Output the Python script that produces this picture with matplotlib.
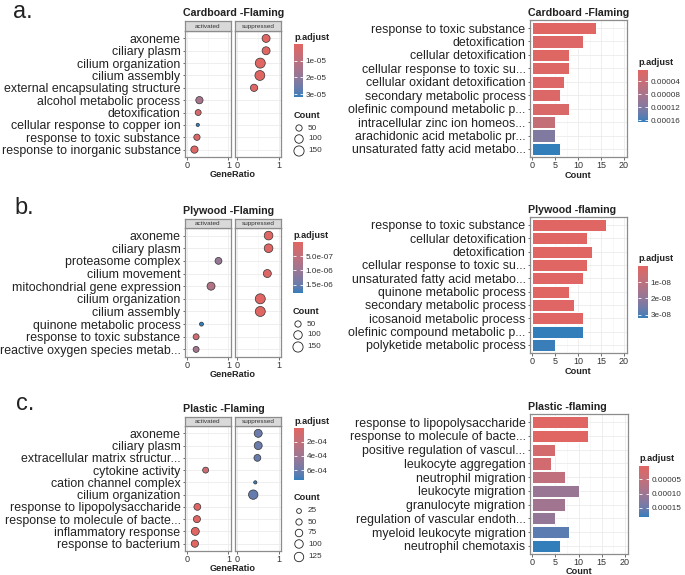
import numpy as np
import matplotlib
matplotlib.use("Agg")
import matplotlib.pyplot as plt
from matplotlib.colors import ListedColormap, Normalize
from matplotlib.cm import ScalarMappable

plt.rcParams['font.family'] = ['Liberation Sans', 'DejaVu Sans']

W, H = 685, 575

# ---- a. Cardboard, dot plot (top row first)
a_dot_terms = ["axoneme", "ciliary plasm", "cilium organization", "cilium assembly",
               "external encapsulating structure", "alcohol metabolic process", "detoxification",
               "cellular response to copper ion", "response to toxic substance",
               "response to inorganic substance"]
a_dot_group = ["suppressed"] * 5 + ["activated"] * 5
a_dot_ratio = [0.69, 0.69, 0.55, 0.54, 0.40, 0.30, 0.27, 0.26, 0.24, 0.18]
a_dot_count = [87, 87, 144, 140, 70, 70, 44, 9, 50, 70]
a_dot_padj = [2e-7, 3e-7, 1e-7, 1.5e-7, 8e-7, 1.5e-5, 3e-6, 3.16e-5, 2e-6, 1e-6]

# ---- a. Cardboard, bar plot
a_bar_terms = ["response to toxic substance", "detoxification", "cellular detoxification",
               "cellular response to toxic su...", "cellular oxidant detoxification",
               "secondary metabolic process", "olefinic compound metabolic p...",
               "intracellular zinc ion homeos...", "arachidonic acid metabolic pr...",
               "unsaturated fatty acid metabo..."]
a_bar_count = [14, 11, 8, 8, 7, 6, 8, 5, 5, 6]
a_bar_padj = [6e-6, 1.2e-5, 9e-6, 1e-5, 1.1e-5, 1.3e-5, 1.6e-5, 4.5e-5, 1.2e-4, 1.65e-4]

# ---- b. Plywood, dot plot
b_dot_terms = ["axoneme", "ciliary plasm", "proteasome complex", "cilium movement",
               "mitochondrial gene expression", "cilium organization", "cilium assembly",
               "quinone metabolic process", "response to toxic substance",
               "reactive oxygen species metab..."]
b_dot_group = ["suppressed", "suppressed", "activated", "suppressed", "activated",
               "suppressed", "suppressed", "activated", "activated", "activated"]
b_dot_ratio = [0.75, 0.75, 0.76, 0.72, 0.58, 0.55, 0.55, 0.35, 0.22, 0.22]
b_dot_count = [105, 105, 61, 87, 87, 144, 144, 16, 44, 44]
b_dot_padj = [2e-8, 3e-8, 1.05e-6, 5e-8, 7e-7, 1e-8, 1.5e-8, 1.79e-6, 3e-7, 9e-7]

# ---- b. Plywood, bar plot
b_bar_terms = ["response to toxic substance", "cellular detoxification", "detoxification",
               "cellular response to toxic su...", "unsaturated fatty acid metabo...",
               "quinone metabolic process", "secondary metabolic process",
               "icosanoid metabolic process", "olefinic compound metabolic p...",
               "polyketide metabolic process"]
b_bar_count = [16, 12, 13, 12, 11, 8, 9, 11, 11, 5]
b_bar_padj = [1e-10, 2e-10, 2e-10, 3e-10, 4e-10, 3e-10, 4e-10, 5e-10, 3.2e-8, 3.15e-8]

# ---- c. Plastic, dot plot
c_dot_terms = ["axoneme", "ciliary plasm", "extracellular matrix structur...", "cytokine activity",
               "cation channel complex", "cilium organization",
               "response to lipopolysaccharide", "response to molecule of bacte...",
               "inflammatory response", "response to bacterium"]
c_dot_group = ["suppressed", "suppressed", "suppressed", "activated", "suppressed",
               "suppressed", "activated", "activated", "activated", "activated"]
c_dot_ratio = [0.50, 0.50, 0.48, 0.45, 0.43, 0.38, 0.25, 0.24, 0.20, 0.19]
c_dot_count = [87, 87, 61, 44, 9, 125, 61, 65, 87, 70]
c_dot_padj = [6.1e-4, 6.1e-4, 6.2e-4, 1.3e-4, 7.4e-4, 6.3e-4, 2e-5, 2e-5, 1e-5, 1.5e-5]

# ---- c. Plastic, bar plot
c_bar_terms = ["response to lipopolysaccharide", "response to molecule of bacte...",
               "positive regulation of vascul...", "leukocyte aggregation",
               "neutrophil migration", "leukocyte migration", "granulocyte migration",
               "regulation of vascular endoth...", "myeloid leukocyte migration",
               "neutrophil chemotaxis"]
c_bar_count = [12, 12, 5, 4, 7, 10, 7, 5, 8, 6]
c_bar_padj = [3e-6, 3.5e-6, 2.5e-5, 2.8e-5, 5.5e-5, 1.05e-4, 9.5e-5, 1.1e-4, 1.62e-4, 1.82e-4]


# ggplot interpolates gradients in CIELAB, do the same here
M = np.array([[0.4124, 0.3576, 0.1805], [0.2126, 0.7152, 0.0722], [0.0193, 0.1192, 0.9505]])
WHITE = M @ np.ones(3)


def to_lab(hexcol):
    rgb = np.array(matplotlib.colors.to_rgb(hexcol))
    lin = np.where(rgb <= 0.04045, rgb / 12.92, ((rgb + 0.055) / 1.055) ** 2.4)
    t = (M @ lin) / WHITE
    d = 6 / 29
    f = np.where(t > d ** 3, np.cbrt(t), t / (3 * d * d) + 4 / 29)
    return np.array([116 * f[1] - 16, 500 * (f[0] - f[1]), 200 * (f[1] - f[2])])


def from_lab(lab):
    fy = (lab[0] + 16) / 116
    f = np.array([fy + lab[1] / 500, fy, fy - lab[2] / 200])
    d = 6 / 29
    t = np.where(f > d, f ** 3, 3 * d * d * (f - 4 / 29)) * WHITE
    lin = np.clip(np.linalg.solve(M, t), 0, 1)
    return np.clip(np.where(lin <= 0.0031308, 12.92 * lin, 1.055 * lin ** (1 / 2.4) - 0.055), 0, 1)


lo, hi = to_lab("#e06663"), to_lab("#327eba")
cmap = ListedColormap([from_lab(lo + (hi - lo) * s) for s in np.linspace(0, 1, 256)])

fig = plt.figure(figsize=(W / 100, H / 100), dpi=100)
ov = fig.add_axes([0, 0, 1, 1], zorder=-1)   # pixel overlay for titles / legends
ov.set_xlim(0, W)
ov.set_ylim(H, 0)
ov.axis("off")

DARK = "#222222"
LABEL_SIZE = 8.9


def box(x0, y0, x1, y1):
    return [x0 / W, 1 - y1 / H, (x1 - x0) / W, (y1 - y0) / H]


def dot_size(count):
    d = 0.75 * np.sqrt(np.asarray(count, dtype=float)) + 1   # diameter in px
    return (d * 0.72) ** 2


def style(ax):
    for s in ax.spines.values():
        s.set_color("#8c8c8c")
        s.set_linewidth(0.9)
    ax.grid(True, which="major", color="#EBEBEB", lw=0.6)
    ax.grid(True, which="minor", axis="x", color="#F3F3F3", lw=0.4)
    ax.set_axisbelow(True)
    ax.tick_params(axis="both", which="major", length=1.8, width=0.5, color="#333333", pad=1)
    ax.tick_params(axis="x", labelsize=6.5, labelcolor="#333333")
    ax.tick_params(axis="y", labelsize=LABEL_SIZE, labelcolor=DARK)
    ax.tick_params(which="minor", length=0)


def colorbar(cb, vmin, vmax, ticks, labels, ty):
    cax = fig.add_axes(box(*cb))
    sm = ScalarMappable(norm=Normalize(vmin, vmax), cmap=cmap)
    bar = fig.colorbar(sm, cax=cax)
    bar.outline.set_visible(False)
    cax.invert_yaxis()
    bar.set_ticks(ticks)
    bar.set_ticklabels(labels)
    cax.tick_params(left=True, right=True, labelleft=False, labelright=True, direction="in",
                    length=2, width=0.6, color="white", labelsize=5.9, labelcolor="#333333", pad=2)
    ov.text(cb[0], ty, "p.adjust", fontsize=6.6, fontweight="bold", va="center", ha="left",
            color=DARK)


def dot_panel(ys, letter, lxy, title, terms, group, ratio, count, padj, cb, cticks, clabels,
              leg_counts, leg_y):
    strip_top, top, bottom = ys
    n = len(terms)
    ypos = np.arange(n, 0, -1)
    norm = Normalize(min(padj), max(padj))
    group = np.array(group)
    for k, (name, x0, x1) in enumerate([("activated", 184.5, 230.5), ("suppressed", 235, 281)]):
        ax = fig.add_axes(box(x0, top, x1, bottom))
        style(ax)
        m = group == name
        ax.scatter(np.array(ratio)[m], ypos[m], s=dot_size(np.array(count)[m]),
                   c=cmap(norm(np.array(padj)[m])), edgecolors="#333333", linewidths=0.5, zorder=3)
        ax.set_xlim(-0.06, 1.05)
        ax.set_ylim(0.4, n + 0.6)
        ax.set_xticks([0, 1])
        ax.set_xticks([0.5], minor=True)
        if k == 0:
            ax.set_yticks(ypos, terms)
        else:
            ax.set_yticks(ypos, [""] * n)
            ax.tick_params(axis="y", length=0)
        st = fig.add_axes(box(x0, strip_top, x1, top))
        st.set_facecolor("#D9D9D9")
        st.set_xticks([])
        st.set_yticks([])
        for s in st.spines.values():
            s.set_color("#8c8c8c")
            s.set_linewidth(0.9)
        st.text(0.5, 0.45, name, transform=st.transAxes, ha="center", va="center",
                fontsize=4.6, color="#333333")
    ov.text(183.5, strip_top - 5.5, title, fontsize=7.7, fontweight="bold", ha="left",
            va="baseline", color=DARK)
    ov.text(233, bottom + 17.5, "GeneRatio", fontsize=6.6, fontweight="bold", ha="center",
            va="center", color=DARK)
    ov.text(lxy[0], lxy[1], letter, fontsize=17, ha="left", va="baseline", color=DARK)
    colorbar(cb, min(padj), max(padj), cticks, clabels, cb[1] - 6.5)
    ov.text(cb[0], leg_y[0], "Count", fontsize=6.6, fontweight="bold", ha="left", va="center",
            color=DARK)
    ov.scatter([cb[0] + 5] * len(leg_counts), leg_y[1:], s=dot_size(leg_counts),
               facecolors="none", edgecolors="#222222", linewidths=0.6)
    for c, yy in zip(leg_counts, leg_y[1:]):
        ov.text(cb[0] + 14, yy, str(c), fontsize=5.9, ha="left", va="center", color="#333333")


def bar_panel(pb, title, terms, count, padj, cb, cticks, clabels):
    n = len(terms)
    ypos = np.arange(n, 0, -1)
    norm = Normalize(min(padj), max(padj))
    ax = fig.add_axes(box(*pb))
    style(ax)
    ax.barh(ypos, count, height=0.9, color=cmap(norm(np.array(padj))), edgecolor="white",
            linewidth=0.7, zorder=3)
    ax.set_xlim(-0.6, 20.65)
    ax.set_ylim(0.4, n + 0.6)
    ax.set_xticks([0, 5, 10, 15, 20])
    ax.set_xticks([2.5, 7.5, 12.5, 17.5], minor=True)
    ax.set_yticks(ypos, terms)
    ov.text(pb[0] - 1.5, pb[1] - 4, title, fontsize=7.7, fontweight="bold", ha="left",
            va="baseline", color=DARK)
    ov.text((pb[0] + pb[2]) / 2, pb[3] + 18, "Count", fontsize=6.6, fontweight="bold",
            ha="center", va="center", color=DARK)
    colorbar(cb, min(padj), max(padj), cticks, clabels, cb[1] - 7.5)


dot_panel((21, 31, 157), "a.", (13, 18), "Cardboard -Flaming", a_dot_terms, a_dot_group,
          a_dot_ratio, a_dot_count, a_dot_padj, (294, 44, 303, 97), [1e-5, 2e-5, 3e-5],
          ["1e-05", "2e-05", "3e-05"], [50, 100, 150], [115, 128, 139, 151])
bar_panel((529.5, 20, 627, 157), "Cardboard -Flaming", a_bar_terms, a_bar_count, a_bar_padj,
          (638, 70, 648, 122), [4e-5, 8e-5, 1.2e-4, 1.6e-4],
          ["0.00004", "0.00008", "0.00012", "0.00016"])

dot_panel((219, 228, 357), "b.", (14, 214), "Plywood -Flaming", b_dot_terms, b_dot_group,
          b_dot_ratio, b_dot_count, b_dot_padj, (293, 242, 303, 293), [5e-7, 1e-6, 1.5e-6],
          ["5.0e-07", "1.0e-06", "1.5e-06"], [50, 100, 150], [312, 324, 335, 347])
bar_panel((529.5, 217, 627, 353), "Plywood -flaming", b_bar_terms, b_bar_count, b_bar_padj,
          (638, 266, 648, 318), [1e-8, 2e-8, 3e-8], ["1e-08", "2e-08", "3e-08"])

dot_panel((417, 426, 551), "c.", (16, 410), "Plastic -Flaming", c_dot_terms, c_dot_group,
          c_dot_ratio, c_dot_count, c_dot_padj, (294, 428, 304, 480), [2e-4, 4e-4, 6e-4],
          ["2e-04", "4e-04", "6e-04"], [25, 50, 75, 100, 125], [498, 511, 522, 533, 544, 557])
bar_panel((529.5, 414, 628, 554), "Plastic -flaming", c_bar_terms, c_bar_count, c_bar_padj,
          (639, 466, 649, 517), [5e-5, 1e-4, 1.5e-4], ["0.00005", "0.00010", "0.00015"])

fig.savefig("out.png", dpi=100)
